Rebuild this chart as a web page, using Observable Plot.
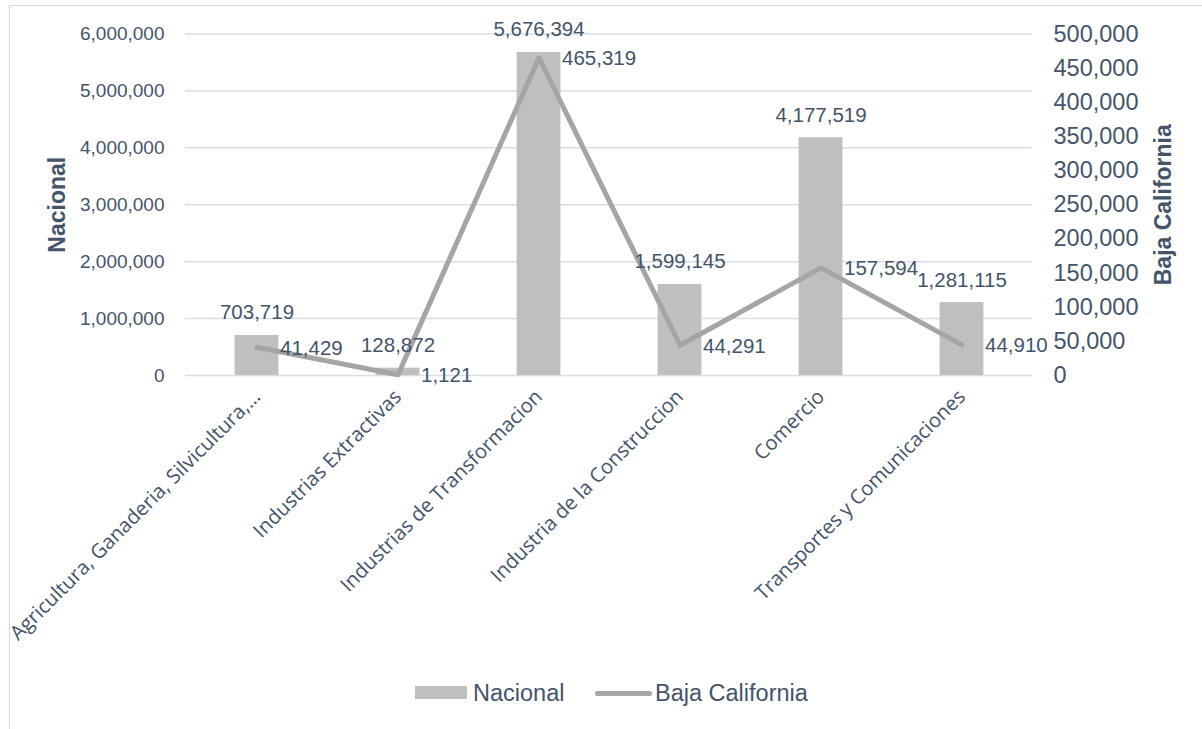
<!DOCTYPE html>
<html>
<head>
<meta charset="utf-8">
<script src="https://cdn.jsdelivr.net/npm/d3@7"></script>
<script src="https://cdn.jsdelivr.net/npm/@observablehq/plot@0.6"></script>
<style>
  body { margin: 0; background: #fff; }
  #frame { position: absolute; left: 9px; top: 5px; width: 1200px; height: 730px; border: 1px solid #d9d9d9; box-sizing: border-box; }
  #chart { position: absolute; left: 0; top: 0; }
  #legend { position: absolute; top: 676px; left: 0; width: 1202px; height: 34px; font-family: "Liberation Sans", Arial, sans-serif; font-size: 23.5px; color: #44546a; }
  .item { position: absolute; top: 0; line-height: 34px; white-space: nowrap; }
  .sw-bar { position: absolute; width: 52px; height: 13px; background: #bfbfbf; top: 10px; }
  .sw-line { position: absolute; width: 57px; height: 5px; border-radius: 3px; background: #a5a5a5; top: 14.5px; }
</style>
</head>
<body>
<div id="frame"></div>
<div id="chart"></div>
<div id="legend">
  <div class="sw-bar" style="left:415px"></div>
  <div class="item" style="left:473px">Nacional</div>
  <div class="sw-line" style="left:595px"></div>
  <div class="item" style="left:655px">Baja California</div>
</div>
<script>
const categories = [
  "Agricultura, Ganaderia, Silvicultura,…",
  "Industrias Extractivas",
  "Industrias de Transformacion",
  "Industria de la Construccion",
  "Comercio",
  "Transportes y Comunicaciones"
];
const nacional = [703719, 128872, 5676394, 1599145, 4177519, 1281115];
const bajaCalifornia = [41429, 1121, 465319, 44291, 157594, 44910];
const leftTicks = [0, 1000000, 2000000, 3000000, 4000000, 5000000, 6000000];
const rightTicks = [0, 50000, 100000, 150000, 200000, 250000, 300000, 350000, 400000, 450000, 500000];

const leftMax = 6000000, rightMax = 500000;
const ratio = leftMax / rightMax;
const fmt = d3.format(",");
const textColor = "#44546a";

const data = categories.map((c, i) => ({cat: c, nac: nacional[i], bc: bajaCalifornia[i], bcScaled: bajaCalifornia[i] * ratio}));

const chart = Plot.plot({
  width: 1202,
  height: 640,
  marginLeft: 185,
  marginRight: 170,
  marginTop: 33.5,
  marginBottom: 265,
  style: {fontFamily: "'Liberation Sans', Arial, sans-serif", color: textColor, background: "transparent", overflow: "visible"},
  x: {domain: categories, padding: 0},
  y: {domain: [0, leftMax]},
  marks: [
    Plot.ruleY(leftTicks, {stroke: "#d9dee6", strokeWidth: 1.5}),
    Plot.barY(data, {x: "cat", y: "nac", fill: "#bfbfbf", insetLeft: 48.6, insetRight: 48.6}),
    Plot.line(data, {x: "cat", y: "bcScaled", stroke: "#a5a5a5", strokeWidth: 5, strokeLinecap: "round", strokeLinejoin: "round"}),
    Plot.text(data, {x: "cat", y: "nac", text: d => fmt(d.nac), fill: textColor, fontSize: 20.5, lineAnchor: "bottom", dy: -16}),
    Plot.text(data, {x: "cat", y: "bcScaled", text: d => fmt(d.bc), fill: textColor, fontSize: 20.5, textAnchor: "start", lineAnchor: "middle", dx: 23, dy: 1}),
    Plot.axisY(leftTicks, {anchor: "left", tickSize: 0, tickPadding: 21, fontSize: 19, tickFormat: fmt, label: null}),
    Plot.axisY(rightTicks.map(v => v * ratio), {anchor: "right", tickSize: 0, tickPadding: 21, fontSize: 23.5, tickFormat: d => fmt(Math.round(d / ratio)), label: null}),
    Plot.axisX({anchor: "bottom", tickSize: 0, tickPadding: 18, tickRotate: -45, fontSize: 20.1, fontFamily: "'Open Sans', sans-serif", label: null}),
    Plot.text(["Nacional"], {frameAnchor: "left", rotate: -90, dx: -128, fontSize: 23, fontWeight: "bold", fill: textColor, textAnchor: "middle", lineAnchor: "middle"}),
    Plot.text(["Baja California"], {frameAnchor: "right", rotate: -90, dx: 131, fontSize: 23, fontWeight: "bold", fill: textColor, textAnchor: "middle", lineAnchor: "middle"})
  ]
});
document.getElementById("chart").appendChild(chart);
</script>
</body>
</html>
